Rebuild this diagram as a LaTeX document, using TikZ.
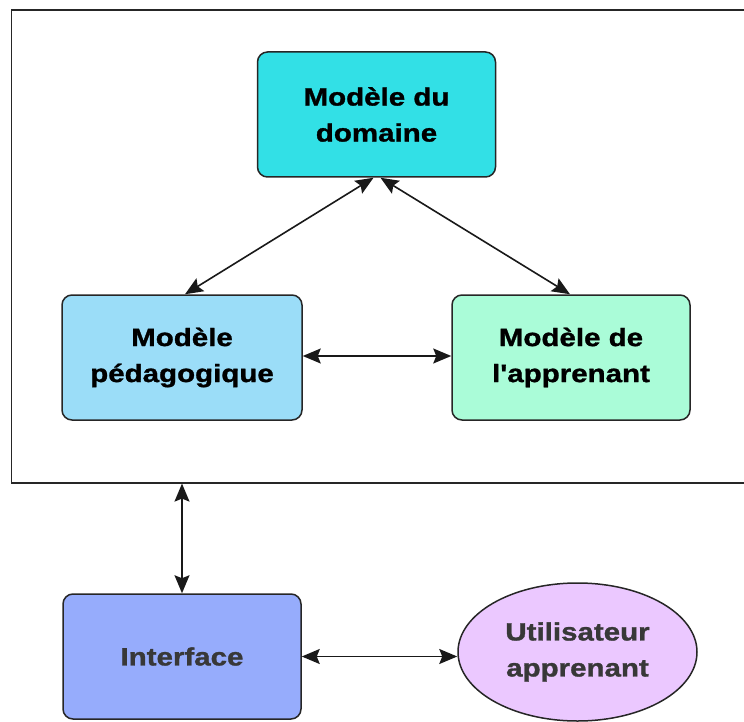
\documentclass[tikz,border=0pt]{standalone}
\usepackage{fontspec}
\setmainfont{Liberation Sans}[FakeStretch=1.18, Ligatures=TeXOff, BoldFeatures={FakeBold=1.2}]
\usetikzlibrary{arrows.meta,shapes.geometric}
\definecolor{cdom}{RGB}{50,224,230}
\definecolor{cped}{RGB}{155,221,248}
\definecolor{capp}{RGB}{170,252,216}
\definecolor{cint}{RGB}{150,172,252}
\definecolor{cusr}{RGB}{235,200,255}
\begin{document}
\begin{tikzpicture}[x=1pt,y=-1pt,
  box/.style={draw=black!85, line width=1.5pt, rounded corners=10pt,
    minimum width=238pt, minimum height=125pt, align=center, inner sep=0pt,
    font=\fontsize{25}{36}\selectfont\bfseries},
  tip/.tip={Stealth[length=18pt,width=15pt,inset=3pt]},
  link/.style={line width=1.6pt, black!90, tip-tip}]
\useasboundingbox (0,0) rectangle (744,722);
\node[draw=black!85, line width=1.6pt, minimum width=760pt, minimum height=472.5pt,
  anchor=north west, inner sep=0pt] (frame) at (10.5,9.5) {};
\node[box, fill=cdom] (dom) at (376.5,114.5) {Modèle du\\domaine};
\node[box, fill=cped, minimum width=240pt] (ped) at (182,357.5) {Modèle\\pédagogique};
\node[box, fill=capp] (app) at (571,357.5) {Modèle de\\l'apprenant};
\node[box, fill=cint, text=black!78] (iface) at (182,656.5) {Interface};
\node[ellipse, draw=black!85, line width=1.5pt, fill=cusr, text=black!78,
  minimum width=239pt, minimum height=138pt, inner sep=0pt, align=center,
  font=\fontsize{25}{36}\selectfont\bfseries] (usr) at (577.5,652) {Utilisateur\\apprenant};
\draw[link] ([xshift=-3pt]dom.south) -- ([xshift=3pt]ped.north);
\draw[link] ([xshift=4pt]dom.south) -- ([xshift=-1pt]app.north);
\draw[link] ([yshift=1.5pt]ped.east) -- ([yshift=1.5pt]app.west);
\draw[link] (iface.north |- frame.south) -- (iface.north);
\draw[link] (iface.east) -- (iface.east -| usr.west);
\end{tikzpicture}
\end{document}
